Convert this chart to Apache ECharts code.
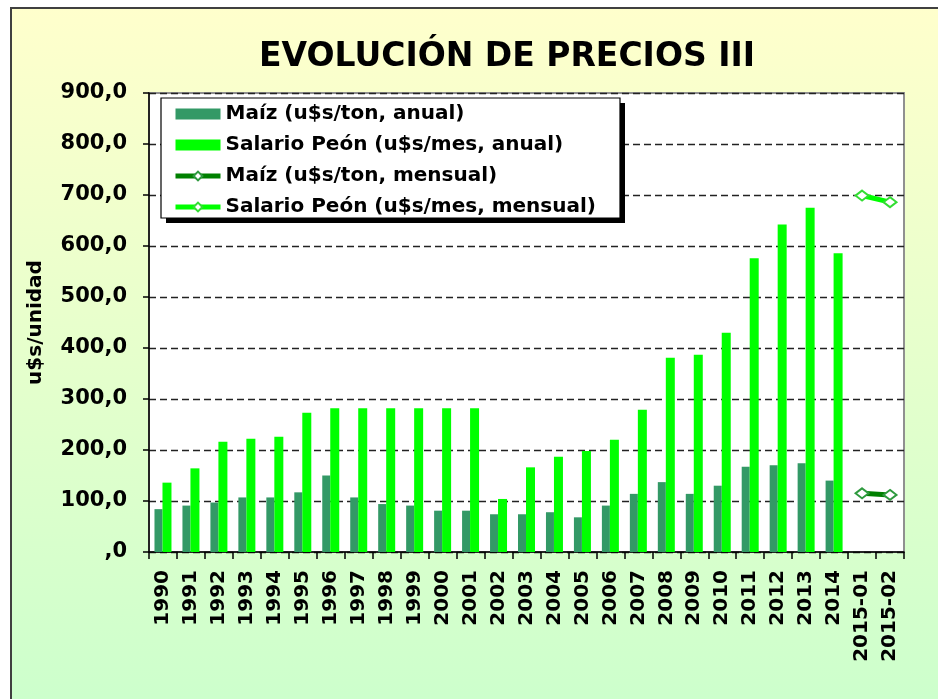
<!DOCTYPE html>
<html>
<head>
<meta charset="utf-8">
<script src="https://cdn.jsdelivr.net/npm/echarts@6/dist/echarts.min.js"></script>
<style>
  html, body { margin: 0; padding: 0; background: #fff; }
  #chart { width: 938px; height: 699px; }
</style>
</head>
<body>
<div id="chart"></div>
<script>
// Categories: yearly averages, then the first months of 2015
const categories = ['1990','1991','1992','1993','1994','1995','1996','1997','1998','1999',
  '2000','2001','2002','2003','2004','2005','2006','2007','2008','2009',
  '2010','2011','2012','2013','2014','2015-01','2015-02'];

// Yearly values (u$s/ton and u$s/mes)
const maizAnual = [84, 91, 97, 107, 107, 117, 150, 107, 94, 91,
  81, 81, 74, 74, 78, 68, 91, 114, 137, 114,
  130, 167, 170, 174, 140, null, null];
const salarioAnual = [136, 164, 216, 222, 226, 273, 282, 282, 282, 282,
  282, 282, 104, 166, 187, 198, 220, 279, 381, 387,
  430, 576, 642, 675, 586, null, null];

// Monthly values for 2015
const maizMensual = [null, null, null, null, null, null, null, null, null, null,
  null, null, null, null, null, null, null, null, null, null,
  null, null, null, null, null, 115, 112];
const salarioMensual = [null, null, null, null, null, null, null, null, null, null,
  null, null, null, null, null, null, null, null, null, null,
  null, null, null, null, null, 699, 686];

// Value axis ticks
const yMin = 0, yMax = 900, yStep = 100;

const FONT = 'DejaVu Sans';

// Legend frame (drawn as graphics so the drop shadow stays solid)
const LEG = { x: 161, y: 98, w: 459, h: 120, shadow: 5 };

const chart = echarts.init(document.getElementById('chart'), null, { renderer: 'canvas' });

chart.setOption({
  backgroundColor: '#ffffff',
  animation: false,
  textStyle: { fontFamily: FONT },
  graphic: [
    {
      type: 'rect',
      z: -10,
      silent: true,
      shape: { x: 11, y: 8, width: 940, height: 700 },
      style: {
        fill: new echarts.graphic.LinearGradient(0, 0, 0, 1, [
          { offset: 0, color: '#ffffcc' },
          { offset: 1, color: '#ccffcc' }
        ]),
        stroke: '#404040',
        lineWidth: 2
      }
    },
    {
      type: 'text',
      x: 507,
      y: 57,
      style: {
        text: 'EVOLUCIÓN DE PRECIOS III',
        font: 'bold 33px "' + FONT + '"',
        fill: '#000',
        textAlign: 'center',
        textVerticalAlign: 'middle'
      }
    },
    {
      type: 'rect',
      z: 5,
      silent: true,
      shape: { x: LEG.x + LEG.shadow, y: LEG.y + LEG.shadow, width: LEG.w, height: LEG.h },
      style: { fill: '#000' }
    },
    {
      type: 'rect',
      z: 6,
      silent: true,
      shape: { x: LEG.x, y: LEG.y, width: LEG.w, height: LEG.h },
      style: { fill: '#fff', stroke: '#000', lineWidth: 1.2 }
    }
  ],
  legend: {
    orient: 'vertical',
    left: 161,
    top: 98,
    z: 10,
    padding: [6, 17, 8, 12],
    itemGap: 11,
    itemWidth: 45,
    itemHeight: 11,
    textStyle: { fontFamily: FONT, fontWeight: 'bold', fontSize: 20, color: '#000' },
    data: [
      { name: 'Maíz (u$s/ton, anual)', icon: 'rect' },
      { name: 'Salario Peón (u$s/mes, anual)', icon: 'rect' },
      { name: 'Maíz (u$s/ton, mensual)', lineStyle: { width: 5 } },
      { name: 'Salario Peón (u$s/mes, mensual)', lineStyle: { width: 5 } }
    ]
  },
  grid: {
    left: 149,
    right: 34,
    top: 93,
    bottom: 147,
    show: true,
    backgroundColor: '#ffffff',
    borderColor: '#909090',
    borderWidth: 2
  },
  xAxis: {
    type: 'category',
    data: categories,
    boundaryGap: true,
    axisLine: { show: true, lineStyle: { color: '#000', width: 1.5 } },
    axisTick: { show: true, length: 7, interval: 0, lineStyle: { color: '#000', width: 1.5 } },
    axisLabel: {
      interval: 0,
      rotate: 90,
      margin: 18,
      fontFamily: FONT,
      fontWeight: 'bold',
      fontSize: 20,
      color: '#000'
    },
    splitLine: { show: false }
  },
  yAxis: {
    type: 'value',
    min: yMin,
    max: yMax,
    interval: yStep,
    name: 'u$s/unidad',
    nameLocation: 'middle',
    nameGap: 103,
    nameTextStyle: { fontFamily: FONT, fontWeight: 'bold', fontSize: 20, color: '#000' },
    axisLine: { show: true, lineStyle: { color: '#000', width: 1.5 } },
    axisTick: { show: true, length: 6, lineStyle: { color: '#000', width: 1.5 } },
    axisLabel: {
      margin: 22,
      fontFamily: FONT,
      fontWeight: 'bold',
      fontSize: 21,
      color: '#000',
      formatter: function (v) { return v === 0 ? ',0' : v + ',0'; }
    },
    splitLine: { show: true, lineStyle: { color: '#222', width: 1.4, type: [7, 4] } }
  },
  series: [
    {
      name: 'Maíz (u$s/ton, anual)',
      type: 'bar',
      data: maizAnual,
      barWidth: 8,
      barGap: '0%',
      itemStyle: { color: '#339966' }
    },
    {
      name: 'Salario Peón (u$s/mes, anual)',
      type: 'bar',
      data: salarioAnual,
      barWidth: 9,
      barGap: '0%',
      itemStyle: { color: '#00ff00' }
    },
    {
      name: 'Maíz (u$s/ton, mensual)',
      type: 'line',
      data: maizMensual,
      symbol: 'emptyDiamond',
      symbolSize: [13, 10],
      lineStyle: { color: '#008000', width: 5 },
      itemStyle: { color: '#2e9a3e', borderWidth: 1.5 }
    },
    {
      name: 'Salario Peón (u$s/mes, mensual)',
      type: 'line',
      data: salarioMensual,
      symbol: 'emptyDiamond',
      symbolSize: [13, 10],
      lineStyle: { color: '#00ff00', width: 5 },
      itemStyle: { color: '#33dd33', borderWidth: 1.5 }
    }
  ]
});
</script>
</body>
</html>
